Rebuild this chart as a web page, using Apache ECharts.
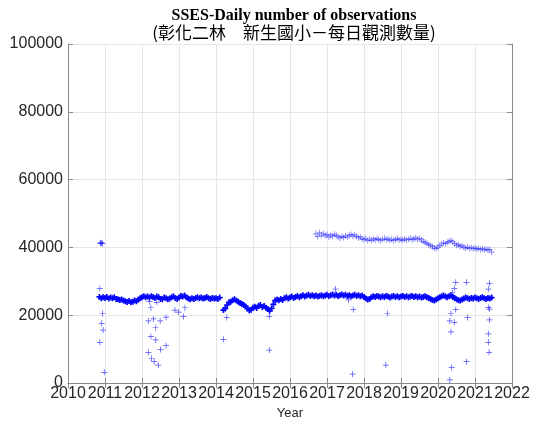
<!DOCTYPE html>
<html>
<head>
<meta charset="utf-8">
<script src="https://cdn.jsdelivr.net/npm/echarts@6/dist/echarts.min.js"></script>
<style>
  html, body { margin: 0; padding: 0; background: #fff; }
  #chart { width: 533px; height: 428px; }
</style>
</head>
<body>
<div id="chart"></div>
<script>
// 標題
const titleText = 'SSES-Daily number of observations'
const subTitleText = '(彰化二林　新生國小－每日觀測數量)'

// 軸刻度
const yearMin = 2010
const yearMax = 2022
const countMax = 100000
const countStep = 20000

// 日期步長（年）
const dayStep = 0.05

// 主帶 A：2010.85 起
const bandAStart = 2010.85
const bandAValues = [
  25400, 25000, 25300, 25100, 25400, 24900, 25200, 25000, 25300, 24800,
  24700, 24500, 24600, 24300, 24100, 23900, 24200, 23800, 24000, 24300,
  24100, 24600, 25000, 25300, 25600, 25300, 25500, 25200, 25600, 25400,
  25100, 25500, 25300, 24800, 24700, 25200, 25000, 24700, 24900, 25300,
  25600, 25100, 24800, 25200, 25700, 25500, 25800, 25300, 24900, 24700,
  25000, 24800, 25100, 25300, 25000, 25200, 24900, 25100, 25400, 25000,
  24800, 25100, 24900, 25000, 24800, 25200
]

// 主帶 B：2014.20 起
const bandBStart = 2014.20
const bandBValues = [
  21500, 22000, 23000, 23800, 24000, 24400, 24700, 24300, 24000, 23600,
  23300, 23000, 22600, 22000, 21400, 21600, 22200, 22500, 22100, 22800,
  23000, 22400, 22700, 22200, 21800, 21300, 22000, 23200, 24300, 24600,
  24400, 24800, 24500, 25000, 25300, 24900, 25200, 25500, 25100, 25400,
  25700, 25300, 25600, 25900, 25500, 25800, 26000, 25700, 25900, 25600,
  25800, 25500, 25700, 25900, 25600, 25800, 26000, 25700, 25900, 26100,
  25800, 26000, 25700, 25900, 26100, 25800, 26000, 25700, 25900, 25600,
  25800, 26000, 25700, 25900, 25600, 25800, 25400, 24900, 24600, 24800,
  25300, 25600, 25400, 25700, 25500, 25300, 25600, 25400, 25700, 25500,
  25200, 25500, 25700, 25400, 25600, 25300, 25500, 25700, 25400, 25600,
  25300, 25500, 25700, 25400, 25600, 25300, 25500, 25200, 25400, 25600,
  25300, 25100, 24800, 24500, 24300, 24600, 25000, 25300, 25600, 25800,
  25500, 25300, 25600, 25800, 25400, 25100, 24700, 24400, 24300, 24600,
  24900, 25200, 25000, 24800, 25100, 24900, 25200, 25000, 24800, 25100,
  25300, 25000, 24800, 25100, 24900, 25200
]

// 上帶：2016.70 起
const upperStart = 2016.70
const upperValues = [
  44000, 43200, 44300, 43600, 44100, 43400, 43800, 43000, 43600, 43300,
  43900, 43500, 43100, 42800, 43200, 42900, 43400, 43000, 43600, 43800,
  43300, 43700, 43200, 42800, 43100, 42500, 42300, 42700, 42000, 42400,
  42100, 42500, 42200, 42600, 42300, 42000, 42400, 42700, 42300, 42500,
  42100, 42400, 42000, 42300, 42600, 42200, 42400, 42100, 42500, 42200,
  42400, 42700, 42300, 42500, 42800, 42400, 42600, 42200, 41800, 41500,
  41200, 40800, 40500, 40200, 39800, 39700, 40100, 40600, 41000, 41300,
  41100, 41500, 41800, 42000, 41600, 41100, 40600, 40800, 40300, 40500,
  40000, 39800, 40100, 39700, 39900, 39600, 39800, 39500, 39700, 39400,
  39600, 39300, 39500, 39200, 39400, 38600
]

// 離群點 [年, 數量]
const outlierPoints = [
  [2010.87, 41200], [2010.89, 41400], [2010.91, 41300], [2010.93, 41100],
  [2010.86, 27900], [2010.93, 20500], [2010.91, 17600], [2010.95, 15600],
  [2010.86, 12000], [2010.98, 3150],
  [2012.17, 18300], [2012.31, 18900], [2012.24, 22200], [2012.37, 16300],
  [2012.24, 13700], [2012.37, 12700], [2012.49, 18300], [2012.65, 19400],
  [2012.17, 9050], [2012.26, 7300], [2012.33, 6300], [2012.44, 5300],
  [2012.50, 9900], [2012.65, 11000], [2012.89, 21500], [2012.99, 20900],
  [2013.12, 19600], [2013.16, 22200], [2012.20, 24000], [2012.40, 23800],
  [2014.29, 19300], [2014.20, 12900],
  [2015.44, 19600], [2015.44, 9700],
  [2017.23, 27700], [2017.58, 24500], [2017.71, 21700], [2017.69, 2650],
  [2018.63, 20500], [2018.59, 5300],
  [2020.48, 29700], [2020.77, 29700], [2020.44, 27900], [2020.39, 26600],
  [2020.48, 21700], [2020.35, 20500], [2020.32, 18300], [2020.44, 17900],
  [2020.35, 15100], [2020.80, 19300], [2020.77, 6300], [2020.37, 4600],
  [2020.32, 900],
  [2021.39, 29400], [2021.36, 27700], [2021.36, 22300], [2021.39, 21800],
  [2021.39, 18600], [2021.36, 14500], [2021.36, 12000], [2021.38, 9050]
]

// 依起始日期與步長配對
function toPairs(start, values) {
  return values.map((v, i) => [start + i * dayStep, v])
}

const thinPlus = 'path://M0,4.4h10v1.2h-10z M4.4,0h1.2v10h-1.2z'
const thickPlus = 'path://M0,3.6h10v2.8h-10z M3.6,0h2.8v10h-2.8z'
const blue = '#0000ff'

function scatterSeries(data, symbol, size, opacity) {
  return {
    type: 'scatter',
    data,
    symbol,
    symbolSize: size,
    itemStyle: { color: blue, opacity },
    silent: true,
    animation: false,
  }
}

const axisGray = '#8a8a8a'
const gridGray = '#e6e6e6'
const labelFont = { fontFamily: 'Liberation Sans', fontSize: 16, color: '#262626' }

const chart = echarts.init(document.getElementById('chart'))
chart.setOption({
  animation: false,
  title: {
    text: titleText,
    subtext: subTitleText,
    left: 289,
    top: 3,
    textAlign: 'center',
    itemGap: 0,
    textStyle: { fontFamily: 'Liberation Serif', fontWeight: 'bold', fontSize: 16, color: '#000' },
    subtextStyle: { fontFamily: 'Noto Sans CJK TC', fontSize: 17, color: '#000' },
  },
  grid: { left: 68, right: 21, top: 44, bottom: 45 },
  xAxis: [
    {
      type: 'value',
      min: yearMin,
      max: yearMax,
      interval: 1,
      name: 'Year',
      nameLocation: 'middle',
      nameGap: 23,
      nameTextStyle: { fontFamily: 'Liberation Sans', fontSize: 13, color: '#262626' },
      axisLine: { show: true, lineStyle: { color: axisGray } },
      axisTick: { show: true, inside: true, length: 5, lineStyle: { color: axisGray } },
      axisLabel: { ...labelFont, margin: 3, formatter: v => String(v) },
      splitLine: { show: true, lineStyle: { color: gridGray } },
    },
    {
      type: 'value',
      position: 'top',
      min: yearMin,
      max: yearMax,
      interval: 1,
      axisLine: { show: true, lineStyle: { color: axisGray } },
      axisTick: { show: true, inside: true, length: 5, lineStyle: { color: axisGray } },
      axisLabel: { show: false },
      splitLine: { show: false },
    },
  ],
  yAxis: [
    {
      type: 'value',
      min: 0,
      max: countMax,
      interval: countStep,
      axisLine: { show: true, lineStyle: { color: axisGray } },
      axisTick: { show: true, inside: true, length: 5, lineStyle: { color: axisGray } },
      axisLabel: { ...labelFont, margin: 5, formatter: v => String(v) },
      splitLine: { show: true, lineStyle: { color: gridGray } },
    },
    {
      type: 'value',
      position: 'right',
      min: 0,
      max: countMax,
      interval: countStep,
      axisLine: { show: true, lineStyle: { color: axisGray } },
      axisTick: { show: true, inside: true, length: 5, lineStyle: { color: axisGray } },
      axisLabel: { show: false },
      splitLine: { show: false },
    },
  ],
  series: [
    scatterSeries(toPairs(bandAStart, bandAValues), thickPlus, 6, 1),
    scatterSeries(toPairs(bandBStart, bandBValues), thickPlus, 6, 1),
    scatterSeries(toPairs(upperStart, upperValues), thinPlus, 6, 0.6),
    scatterSeries(outlierPoints, thinPlus, 6, 0.7),
  ],
})
</script>
</body>
</html>
